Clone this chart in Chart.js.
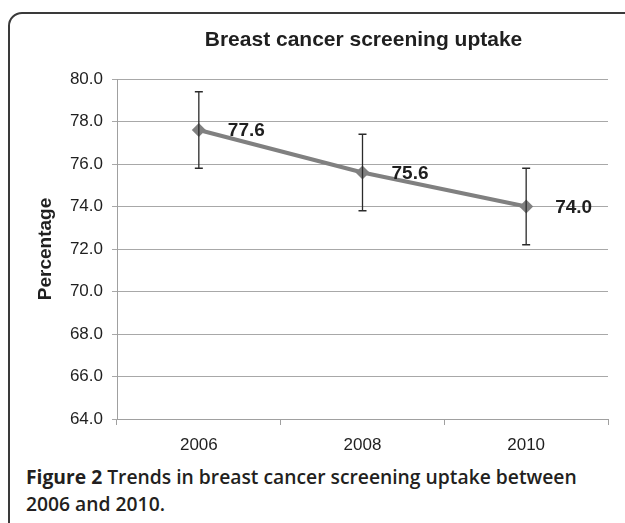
<!DOCTYPE html>
<html>
<head>
<meta charset="utf-8">
<script src="https://cdn.jsdelivr.net/npm/chart.js@4/dist/chart.umd.min.js"></script>
<style>
  body { margin: 0; background: #fff; width: 625px; height: 523px; overflow: hidden; position: relative; }
  #frame {
    position: absolute; left: 8px; top: 12px; width: 640px; height: 530px;
    border: 2px solid #3a3a3a; border-radius: 14px 0 0 6px; box-sizing: border-box;
  }
  #wrap { position: absolute; left: 0; top: 0; width: 625px; height: 455px; }
  #caption {
    position: absolute; left: 26px; top: 463px; width: 595px;
    font-family: "Open Sans", sans-serif; font-size: 19.3px; line-height: 27px;
    font-weight: 600; color: #231f20;
  }
  #caption b { font-weight: 700; }
</style>
</head>
<body>
<div id="frame"></div>
<div id="wrap"><canvas id="myChart"></canvas></div>
<div id="caption"><b>Figure 2</b> Trends in breast cancer screening uptake between<br>2006 and 2010.</div>
<script>
var ctx = document.querySelector('#myChart');

var chartTitle = 'Breast cancer screening uptake';
var years = ['2006', '2008', '2010'];
var uptake = [77.6, 75.6, 74.0];
var errLow = [75.8, 73.8, 72.2];
var errHigh = [79.4, 77.4, 75.8];

const Y_MIN = 64;
const Y_MAX = 80;
const Y_STEP = 2;

const FONT = '"Liberation Sans", Arial, sans-serif';

// title over the plot area, error bars and value labels
var extrasPlugin = {
  id: 'extras',
  afterDatasetsDraw(chart) {
    const c = chart.ctx;
    const x = chart.scales.x;
    const y = chart.scales.y;
    const area = chart.chartArea;
    c.save();
    c.fillStyle = '#1f1f1f';
    c.font = 'bold 21px ' + FONT;
    c.textAlign = 'center';
    c.textBaseline = 'middle';
    c.fillText(chartTitle, (area.left + area.right) / 2 + 1, 40);

    c.strokeStyle = '#2b2b2b';
    c.lineWidth = 1.3;
    years.forEach((yr, i) => {
      const px = x.getPixelForValue(i);
      const top = y.getPixelForValue(errHigh[i]);
      const bot = y.getPixelForValue(errLow[i]);
      c.beginPath();
      c.moveTo(px, top); c.lineTo(px, bot);
      c.moveTo(px - 4, top); c.lineTo(px + 4, top);
      c.moveTo(px - 4, bot); c.lineTo(px + 4, bot);
      c.stroke();
    });
    c.font = 'bold 19px ' + FONT;
    c.textAlign = 'left';
    years.forEach((yr, i) => {
      const px = x.getPixelForValue(i);
      const py = y.getPixelForValue(uptake[i]);
      c.fillText(uptake[i].toFixed(1), px + 29, py + 1);
    });
    c.restore();
  }
};

var chart = new Chart(ctx, {
  type: 'line',
  data: {
    labels: years,
    datasets: [{
      label: 'Uptake',
      data: uptake,
      borderColor: '#808080',
      backgroundColor: '#808080',
      borderWidth: 4,
      pointStyle: 'rectRot',
      pointRadius: 7,
      pointHoverRadius: 7,
      pointBorderWidth: 0
    }]
  },
  plugins: [extrasPlugin],
  options: {
    responsive: true,
    maintainAspectRatio: false,
    animation: false,
    layout: { padding: { left: 0, right: 17, top: 79, bottom: 0 } },
    plugins: {
      legend: { display: false },
      tooltip: { enabled: false },
      title: { display: false }
    },
    scales: {
      x: {
        offset: true,
        grid: { offset: true, drawOnChartArea: false, color: '#a0a0a0', tickLength: 6 },
        border: { color: '#a0a0a0' },
        ticks: {
          color: '#1f1f1f', padding: 10,
          font: { family: FONT, size: 17 }
        },
        afterFit(scale) { scale.height = 36; }
      },
      y: {
        min: Y_MIN,
        max: Y_MAX,
        grid: { color: '#a8a8a8', tickLength: 5 },
        border: { color: '#a0a0a0' },
        ticks: {
          stepSize: Y_STEP,
          color: '#1f1f1f', padding: 9,
          font: { family: FONT, size: 17 },
          callback: v => v.toFixed(1)
        },
        title: {
          display: true,
          text: 'Percentage',
          color: '#1f1f1f',
          font: { family: FONT, size: 19, weight: 'bold' },
          padding: { top: 34, bottom: 0 }
        },
        afterFit(scale) { scale.width = 117; }
      }
    }
  }
});
</script>
</body>
</html>
